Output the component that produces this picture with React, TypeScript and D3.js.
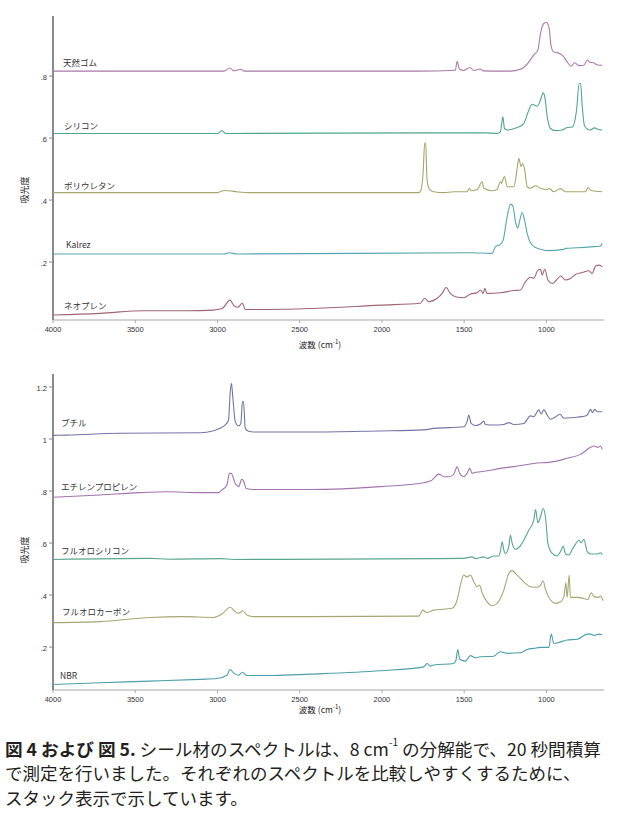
import React from "react";
import * as d3 from "d3";

type P = [number, number];

// ---------- Figure 4 (top) ----------
const naturalRubber: P[] = [
  [4000, 0.816], [3600, 0.816], [2960, 0.816], [2925, 0.826], [2900, 0.817], [2855, 0.822], [2840, 0.816],
  [1777, 0.816], [1554, 0.819], [1543, 0.848], [1529, 0.823], [1503, 0.818], [1466, 0.828], [1442, 0.818],
  [1401, 0.823], [1385, 0.817], [1280, 0.816], [1219, 0.816], [1158, 0.822], [1117, 0.839], [1077, 0.868],
  [1052, 0.884], [1036, 0.938], [1016, 0.970], [1000, 0.973], [985, 0.959], [971, 0.895], [955, 0.878],
  [931, 0.875], [904, 0.868], [874, 0.846], [850, 0.832], [829, 0.843], [803, 0.834], [772, 0.835],
  [752, 0.852], [736, 0.845], [715, 0.843], [691, 0.836], [661, 0.835],
];
const silicone: P[] = [
  [4000, 0.615], [3000, 0.615], [2973, 0.624], [2950, 0.615], [1685, 0.617], [1371, 0.617], [1300, 0.615],
  [1280, 0.620], [1265, 0.669], [1255, 0.631], [1235, 0.626], [1178, 0.634], [1138, 0.647], [1107, 0.690],
  [1087, 0.709], [1056, 0.703], [1036, 0.723], [1020, 0.746], [1010, 0.733], [995, 0.669], [975, 0.631],
  [945, 0.624], [904, 0.626], [874, 0.634], [843, 0.636], [817, 0.690], [801, 0.776], [792, 0.776],
  [782, 0.701], [768, 0.639], [736, 0.626], [707, 0.633], [685, 0.628], [661, 0.626],
];
const polyurethane: P[] = [
  [4000, 0.424], [3000, 0.424], [2960, 0.431], [2930, 0.430], [2870, 0.426], [2800, 0.424], [1777, 0.424],
  [1763, 0.432], [1750, 0.486], [1740, 0.583], [1734, 0.583], [1726, 0.465], [1710, 0.434], [1685, 0.427],
  [1624, 0.424], [1564, 0.427], [1483, 0.427], [1468, 0.438], [1458, 0.430], [1421, 0.434], [1391, 0.459],
  [1381, 0.438], [1330, 0.430], [1300, 0.434], [1280, 0.459], [1274, 0.454], [1255, 0.477], [1239, 0.443],
  [1198, 0.443], [1178, 0.502], [1168, 0.535], [1154, 0.508], [1144, 0.518], [1132, 0.497], [1117, 0.443],
  [1097, 0.438], [1066, 0.446], [1036, 0.438], [995, 0.434], [985, 0.438], [955, 0.427], [914, 0.437],
  [884, 0.427], [762, 0.427], [748, 0.441], [732, 0.432], [661, 0.427],
];
const kalrez: P[] = [
  [4000, 0.226], [2960, 0.226], [2930, 0.230], [2880, 0.226], [1462, 0.230], [1330, 0.228], [1310, 0.250],
  [1280, 0.257], [1263, 0.271], [1239, 0.346], [1218, 0.387], [1204, 0.381], [1188, 0.330], [1174, 0.309],
  [1162, 0.335], [1148, 0.360], [1133, 0.335], [1117, 0.292], [1097, 0.262], [1066, 0.247], [1036, 0.241],
  [995, 0.237], [894, 0.241], [884, 0.244], [813, 0.246], [732, 0.249], [671, 0.252], [661, 0.260],
];
const neoprene: P[] = [
  [4000, 0.029], [3714, 0.0345], [3450, 0.043], [3185, 0.043], [3026, 0.045], [2972, 0.050], [2923, 0.077],
  [2903, 0.061], [2878, 0.054], [2848, 0.067], [2831, 0.047], [2700, 0.047], [2436, 0.050], [2010, 0.061],
  [1767, 0.067], [1740, 0.083], [1716, 0.072], [1665, 0.083], [1634, 0.099], [1610, 0.118], [1584, 0.099],
  [1553, 0.088], [1503, 0.085], [1462, 0.097], [1421, 0.101], [1401, 0.110], [1385, 0.099], [1375, 0.115],
  [1361, 0.099], [1280, 0.101], [1198, 0.108], [1158, 0.110], [1127, 0.137], [1097, 0.151], [1077, 0.148],
  [1052, 0.174], [1036, 0.177], [1026, 0.158], [1010, 0.177], [991, 0.142], [965, 0.131], [939, 0.142],
  [914, 0.155], [884, 0.142], [854, 0.147], [823, 0.160], [782, 0.166], [742, 0.172], [722, 0.163],
  [701, 0.187], [681, 0.190], [661, 0.185],
];

// ---------- Figure 5 (bottom) ----------
const butyl: P[] = [
  [4000, 1.014], [3917, 1.015], [3592, 1.022], [3105, 1.024], [3024, 1.032], [2984, 1.041], [2953, 1.054],
  [2933, 1.073], [2923, 1.176], [2915, 1.214], [2907, 1.163], [2892, 1.067], [2872, 1.050], [2858, 1.060],
  [2848, 1.144], [2842, 1.144], [2831, 1.041], [2811, 1.030], [2781, 1.027], [2436, 1.027], [2030, 1.031],
  [1746, 1.035], [1685, 1.041], [1503, 1.047], [1483, 1.067], [1472, 1.092], [1458, 1.060], [1432, 1.052],
  [1401, 1.058], [1381, 1.069], [1371, 1.056], [1320, 1.054], [1259, 1.056], [1229, 1.063], [1198, 1.056],
  [1138, 1.060], [1097, 1.089], [1077, 1.086], [1046, 1.112], [1032, 1.096], [1016, 1.112], [995, 1.092],
  [975, 1.076], [951, 1.083], [918, 1.095], [894, 1.080], [833, 1.083], [782, 1.086], [752, 1.092],
  [732, 1.114], [720, 1.101], [707, 1.114], [691, 1.105], [661, 1.105],
];
const ethylenePropylene: P[] = [
  [4000, 0.776], [3714, 0.785], [3470, 0.794], [3308, 0.797], [3105, 0.794], [2994, 0.794], [2973, 0.804],
  [2943, 0.823], [2927, 0.868], [2917, 0.868], [2892, 0.829], [2872, 0.817], [2852, 0.845], [2842, 0.840],
  [2825, 0.810], [2781, 0.806], [2436, 0.806], [2010, 0.817], [1746, 0.832], [1696, 0.842], [1655, 0.865],
  [1624, 0.855], [1594, 0.855], [1564, 0.864], [1543, 0.893], [1527, 0.868], [1503, 0.855], [1483, 0.868],
  [1466, 0.887], [1452, 0.868], [1432, 0.872], [1401, 0.874], [1361, 0.878], [1280, 0.887], [1198, 0.894],
  [1077, 0.906], [955, 0.913], [874, 0.926], [792, 0.941], [732, 0.968], [711, 0.973], [685, 0.968],
  [671, 0.973], [661, 0.960],
];
const fluorosilicone: P[] = [
  [4000, 0.537], [3410, 0.541], [3300, 0.538], [2984, 0.540], [2900, 0.537], [1685, 0.540], [1503, 0.541],
  [1452, 0.547], [1432, 0.540], [1381, 0.547], [1361, 0.541], [1320, 0.550], [1290, 0.550], [1280, 0.567],
  [1269, 0.605], [1259, 0.573], [1249, 0.560], [1229, 0.586], [1219, 0.631], [1209, 0.601], [1188, 0.576],
  [1168, 0.583], [1138, 0.611], [1107, 0.650], [1077, 0.688], [1066, 0.729], [1052, 0.678], [1036, 0.701],
  [1020, 0.733], [1006, 0.701], [991, 0.599], [965, 0.560], [935, 0.550], [910, 0.573], [898, 0.588],
  [884, 0.558], [864, 0.554], [843, 0.576], [823, 0.596], [803, 0.611], [789, 0.601], [772, 0.614],
  [752, 0.567], [732, 0.558], [691, 0.558], [671, 0.563], [661, 0.555],
];
const fluorocarbon: P[] = [
  [4000, 0.294], [3714, 0.298], [3410, 0.314], [3207, 0.317], [3024, 0.314], [2973, 0.327], [2923, 0.353],
  [2892, 0.336], [2872, 0.330], [2846, 0.340], [2821, 0.323], [2781, 0.317], [2436, 0.317], [1777, 0.319],
  [1750, 0.342], [1730, 0.333], [1685, 0.342], [1574, 0.349], [1543, 0.381], [1523, 0.438], [1503, 0.477],
  [1483, 0.470], [1462, 0.477], [1442, 0.451], [1421, 0.432], [1407, 0.438], [1391, 0.409], [1361, 0.374],
  [1330, 0.359], [1300, 0.368], [1259, 0.419], [1229, 0.483], [1209, 0.494], [1178, 0.477], [1138, 0.451],
  [1097, 0.432], [1056, 0.430], [1036, 0.438], [1020, 0.455], [1006, 0.422], [975, 0.381], [945, 0.368],
  [914, 0.374], [894, 0.394], [882, 0.447], [874, 0.391], [862, 0.477], [854, 0.391], [813, 0.391],
  [772, 0.387], [748, 0.383], [728, 0.409], [711, 0.394], [685, 0.391], [671, 0.396], [655, 0.378],
];
const nbr: P[] = [
  [4000, 0.056], [3714, 0.063], [3410, 0.069], [3105, 0.076], [3004, 0.079], [2943, 0.092], [2923, 0.114],
  [2903, 0.101], [2872, 0.092], [2848, 0.103], [2821, 0.091], [2659, 0.091], [2436, 0.096], [2010, 0.109],
  [1746, 0.124], [1726, 0.137], [1706, 0.127], [1685, 0.131], [1564, 0.137], [1550, 0.150], [1539, 0.191],
  [1527, 0.153], [1493, 0.146], [1462, 0.167], [1432, 0.159], [1401, 0.163], [1320, 0.165], [1280, 0.182],
  [1239, 0.176], [1158, 0.178], [1117, 0.191], [1077, 0.195], [1036, 0.199], [985, 0.199], [971, 0.250],
  [955, 0.214], [914, 0.220], [874, 0.227], [813, 0.230], [752, 0.250], [732, 0.250], [711, 0.245],
  [681, 0.250], [661, 0.246],
];

const topSeries = [
  { name: "天然ゴム", data: naturalRubber, color: "#a87aa8", labelX: 63, labelY: 62 },
  { name: "シリコン", data: silicone, color: "#4ea68a", labelX: 64, labelY: 125 },
  { name: "ポリウレタン", data: polyurethane, color: "#a6a66c", labelX: 64, labelY: 185 },
  { name: "Kalrez", data: kalrez, color: "#56a6b0", labelX: 66, labelY: 244 },
  { name: "ネオプレン", data: neoprene, color: "#a06474", labelX: 64, labelY: 305 },
];
const bottomSeries = [
  { name: "ブチル", data: butyl, color: "#7474a4", labelX: 61, labelY: 422 },
  { name: "エチレンプロピレン", data: ethylenePropylene, color: "#a274ae", labelX: 61, labelY: 486 },
  { name: "フルオロシリコン", data: fluorosilicone, color: "#58a68e", labelX: 61, labelY: 550 },
  { name: "フルオロカーボン", data: fluorocarbon, color: "#a6a674", labelX: 62, labelY: 611 },
  { name: "NBR", data: nbr, color: "#4c9ea8", labelX: 60, labelY: 675 },
];

const xTicks = [4000, 3500, 3000, 2500, 2000, 1500, 1000];
const topYTicks = [0.2, 0.4, 0.6, 0.8];
const bottomYTicks = [0.2, 0.4, 0.6, 0.8, 1, 1.2];

const fmt = (v: number) => {
  const s = d3.format("~g")(v);
  return s.startsWith("0.") ? s.slice(1) : s;
};

const FONT = "'Liberation Sans', Arial, sans-serif";
const JFONT = "'Noto Sans CJK JP', sans-serif";

type PanelProps = {
  series: typeof topSeries;
  yDomain: [number, number];
  yRange: [number, number];
  yTicks: number[];
  xLabelY: number;
  yLabelY: number;
};

function Panel({ series, yDomain, yRange, yTicks, xLabelY, yLabelY }: PanelProps) {
  const x = d3.scaleLinear().domain([4000, 650]).range([53, 604]);
  const y = d3.scaleLinear().domain(yDomain).range(yRange);
  const line = d3
    .line<P>()
    .x((d) => x(d[0]))
    .y((d) => y(d[1]))
    .curve(d3.curveMonotoneX);
  const y0 = yRange[0];
  const y1 = yRange[1];
  return (
    <g>
      <line x1={53} x2={604} y1={y0} y2={y0} stroke="#a8a8a8" strokeWidth={1.2} />
      {xTicks.map((t) => (
        <g key={t}>
          <line x1={x(t)} x2={x(t)} y1={y0} y2={y0 + 3} stroke="#a8a8a8" strokeWidth={1} />
          <text x={x(t)} y={y0 + 9} fontSize={7.5} fontFamily={FONT} fill="#333" textAnchor="middle" dominantBaseline="central">
            {t}
          </text>
        </g>
      ))}
      <line x1={53} x2={53} y1={y0} y2={y1} stroke="#8a8a8a" strokeWidth={2} />
      {yTicks.map((t) => (
        <g key={t}>
          <line x1={49} x2={53} y1={y(t)} y2={y(t)} stroke="#8a8a8a" strokeWidth={1} />
          <text x={47} y={y(t) + 1} fontSize={7.5} fontFamily={FONT} fill="#333" textAnchor="end" dominantBaseline="central">
            {fmt(t)}
          </text>
        </g>
      ))}
      {series.map((s) => (
        <g key={s.name}>
          <path d={line(s.data) || ""} fill="none" stroke={s.color} strokeWidth={1.1} />
          <text x={s.labelX} y={s.labelY} fontSize={8.5} fontFamily={JFONT} fill="#333" dominantBaseline="central">
            {s.name}
          </text>
        </g>
      ))}
      <text x={320} y={xLabelY} fontSize={8.5} fontFamily={JFONT} fill="#222" textAnchor="middle" dominantBaseline="central">
        波数 (cm<tspan dy={-3} fontSize={6}>-1</tspan><tspan dy={3}>)</tspan>
      </text>
      <text
        transform={`translate(24,${yLabelY}) rotate(-90)`}
        fontSize={9}
        fontFamily={JFONT}
        fill="#222"
        textAnchor="middle"
        dominantBaseline="central"
      >
        吸光度
      </text>
    </g>
  );
}

export default function App() {
  const capFont = 17.5;
  return (
    <svg width={618} height={833} style={{ position: "absolute", left: 0, top: 0, background: "#fff" }}>
      <rect width={618} height={833} fill="#fff" />
      <Panel
        series={topSeries}
        yDomain={[0.013, 0.994]}
        yRange={[320, 16]}
        yTicks={topYTicks}
        xLabelY={344}
        yLabelY={190}
      />
      <Panel
        series={bottomSeries}
        yDomain={[0.035, 1.25]}
        yRange={[690, 374]}
        yTicks={bottomYTicks}
        xLabelY={709}
        yLabelY={550}
      />
      <g fontFamily={JFONT} fill="#231f20" fontSize={capFont}>
        <text x={5} y={748} dominantBaseline="central" textLength={596} lengthAdjust="spacingAndGlyphs">
          <tspan fontWeight="bold">図 4 および 図 5.</tspan>
          <tspan> シール材のスペクトルは、8 cm</tspan>
          <tspan dy={-7} fontSize={10}>-1</tspan>
          <tspan dy={7}> の分解能で、20 秒間積算</tspan>
        </text>
        <text x={5} y={772} dominantBaseline="central">
          で測定を行いました。それぞれのスペクトルを比較しやすくするために、
        </text>
        <text x={5} y={797} dominantBaseline="central">
          スタック表示で示しています。
        </text>
      </g>
    </svg>
  );
}
